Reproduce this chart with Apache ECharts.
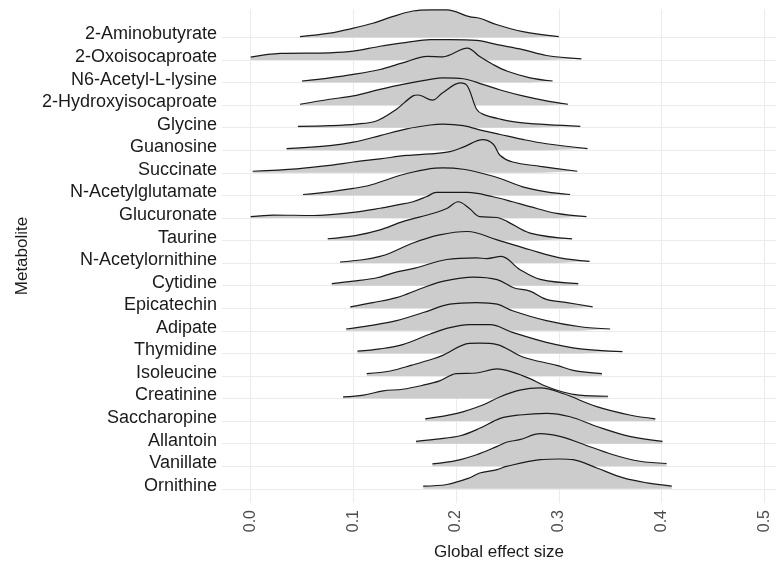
<!DOCTYPE html>
<html>
<head>
<meta charset="utf-8">
<title>Global effect size by metabolite</title>
<script src="https://cdn.jsdelivr.net/npm/echarts@6/dist/echarts.min.js"></script>
<style>
    html, body { margin: 0; padding: 0; background: #ffffff; }
    #ridges { width: 776px; height: 566px; }
</style>
</head>
<body>
<div id="ridges"></div>
<script>
    // metabolites, top row first
    var metabolites = ['2-Aminobutyrate', '2-Oxoisocaproate', 'N6-Acetyl-L-lysine', '2-Hydroxyisocaproate',
        'Glycine', 'Guanosine', 'Succinate', 'N-Acetylglutamate', 'Glucuronate', 'Taurine',
        'N-Acetylornithine', 'Cytidine', 'Epicatechin', 'Adipate', 'Thymidine', 'Isoleucine',
        'Creatinine', 'Saccharopine', 'Allantoin', 'Vanillate', 'Ornithine'];

    // effect size positions read along each ridge
    var ridgeX = [
        [0.048, 0.077, 0.100, 0.119, 0.138, 0.158, 0.175, 0.191, 0.213, 0.223, 0.240, 0.265, 0.300],
        [0.000, 0.029, 0.077, 0.100, 0.126, 0.152, 0.175, 0.194, 0.220, 0.240, 0.265, 0.288, 0.322],
        [0.050, 0.077, 0.100, 0.126, 0.148, 0.172, 0.187, 0.211, 0.223, 0.236, 0.250, 0.272, 0.294],
        [0.048, 0.077, 0.100, 0.126, 0.148, 0.175, 0.187, 0.207, 0.226, 0.243, 0.265, 0.288, 0.309],
        [0.046, 0.077, 0.103, 0.123, 0.142, 0.158, 0.163, 0.177, 0.187, 0.204, 0.211, 0.220, 0.226, 0.243, 0.265, 0.321],
        [0.035, 0.077, 0.100, 0.126, 0.152, 0.175, 0.187, 0.207, 0.226, 0.243, 0.265, 0.288, 0.328],
        [0.002, 0.045, 0.077, 0.100, 0.126, 0.152, 0.175, 0.194, 0.207, 0.226, 0.236, 0.243, 0.255, 0.282, 0.318],
        [0.051, 0.077, 0.100, 0.116, 0.136, 0.152, 0.175, 0.187, 0.207, 0.226, 0.243, 0.265, 0.288, 0.311],
        [0.000, 0.022, 0.061, 0.100, 0.126, 0.142, 0.158, 0.171, 0.181, 0.211, 0.236, 0.255, 0.272, 0.298, 0.327],
        [0.075, 0.102, 0.126, 0.148, 0.178, 0.191, 0.202, 0.213, 0.223, 0.240, 0.250, 0.272, 0.313],
        [0.087, 0.109, 0.126, 0.136, 0.158, 0.184, 0.211, 0.240, 0.272, 0.301, 0.330],
        [0.079, 0.100, 0.123, 0.139, 0.160, 0.191, 0.220, 0.230, 0.244, 0.262, 0.282, 0.319],
        [0.097, 0.119, 0.142, 0.168, 0.188, 0.217, 0.240, 0.256, 0.272, 0.288, 0.308, 0.333],
        [0.093, 0.116, 0.142, 0.168, 0.194, 0.220, 0.240, 0.255, 0.288, 0.321, 0.350],
        [0.104, 0.126, 0.148, 0.175, 0.194, 0.213, 0.233, 0.255, 0.288, 0.321, 0.362],
        [0.113, 0.136, 0.157, 0.178, 0.187, 0.213, 0.223, 0.240, 0.265, 0.298, 0.314, 0.342],
        [0.090, 0.110, 0.129, 0.148, 0.168, 0.184, 0.200, 0.220, 0.240, 0.255, 0.272, 0.285, 0.304, 0.320, 0.348],
        [0.170, 0.201, 0.226, 0.243, 0.262, 0.282, 0.304, 0.337, 0.369, 0.394],
        [0.161, 0.181, 0.204, 0.223, 0.243, 0.262, 0.288, 0.311, 0.337, 0.369, 0.401],
        [0.177, 0.201, 0.220, 0.240, 0.249, 0.262, 0.282, 0.301, 0.321, 0.353, 0.379, 0.405],
        [0.168, 0.191, 0.213, 0.223, 0.240, 0.249, 0.282, 0.301, 0.314, 0.337, 0.363, 0.386, 0.410]
    ];

    // ridge heights at those positions, in row units
    var ridgeH = [
        [0.04, 0.19, 0.41, 0.63, 0.92, 1.17, 1.22, 1.22, 0.92, 0.85, 0.56, 0.26, 0.04],
        [0.13, 0.29, 0.32, 0.39, 0.61, 0.78, 0.90, 0.90, 0.87, 0.68, 0.46, 0.20, 0.05],
        [0.07, 0.21, 0.36, 0.58, 0.87, 1.16, 1.14, 1.53, 1.15, 0.80, 0.50, 0.21, 0.07],
        [0.04, 0.26, 0.41, 0.70, 0.92, 1.14, 1.21, 1.17, 0.92, 0.67, 0.41, 0.19, 0.04],
        [0.06, 0.09, 0.16, 0.31, 0.82, 1.41, 1.45, 1.22, 1.55, 1.99, 1.85, 0.82, 0.60, 0.38, 0.21, 0.06],
        [0.07, 0.21, 0.36, 0.65, 0.95, 1.12, 1.16, 1.09, 0.87, 0.70, 0.48, 0.29, 0.07],
        [0.07, 0.18, 0.33, 0.48, 0.62, 0.77, 0.84, 0.94, 1.14, 1.47, 1.28, 0.77, 0.48, 0.29, 0.07],
        [0.04, 0.16, 0.31, 0.45, 0.75, 0.97, 1.19, 1.22, 1.16, 0.97, 0.75, 0.38, 0.16, 0.04],
        [0.06, 0.13, 0.11, 0.25, 0.43, 0.57, 0.72, 0.94, 1.13, 1.13, 0.94, 0.72, 0.50, 0.20, 0.06],
        [0.08, 0.22, 0.47, 0.84, 1.21, 1.42, 1.72, 1.42, 1.06, 1.02, 0.84, 0.33, 0.07],
        [0.05, 0.15, 0.30, 0.45, 0.89, 1.25, 1.40, 1.03, 0.59, 0.23, 0.08],
        [0.09, 0.20, 0.35, 0.57, 0.78, 1.16, 1.23, 1.20, 1.30, 0.72, 0.28, 0.09],
        [0.06, 0.25, 0.47, 0.91, 1.20, 1.38, 1.27, 0.91, 0.76, 0.39, 0.25, 0.06],
        [0.08, 0.23, 0.45, 0.81, 1.18, 1.25, 1.18, 0.89, 0.45, 0.18, 0.08],
        [0.10, 0.20, 0.39, 0.86, 1.14, 1.27, 1.27, 0.93, 0.49, 0.20, 0.08],
        [0.10, 0.22, 0.48, 0.76, 0.91, 1.44, 1.45, 1.39, 0.84, 0.47, 0.25, 0.10],
        [0.07, 0.15, 0.34, 0.41, 0.59, 0.78, 1.10, 1.13, 1.31, 1.17, 0.88, 0.59, 0.29, 0.15, 0.10],
        [0.10, 0.34, 0.71, 1.08, 1.37, 1.47, 1.22, 0.64, 0.27, 0.10],
        [0.10, 0.20, 0.35, 0.68, 1.12, 1.27, 1.34, 1.19, 0.76, 0.32, 0.10],
        [0.10, 0.26, 0.51, 0.88, 1.06, 1.18, 1.44, 1.32, 1.02, 0.51, 0.22, 0.12],
        [0.12, 0.19, 0.48, 0.70, 0.85, 0.99, 1.29, 1.32, 1.29, 0.92, 0.48, 0.26, 0.12]
    ];

    var xTicks = [0, 0.1, 0.2, 0.3, 0.4, 0.5];

    var fontName = 'Liberation Sans, Arial, sans-serif';
    var myChart = echarts.init(document.getElementById('ridges'));

    var rowIndex = metabolites.map(function (m, i) { return i; });

    // grid lines (drawn under the ridges)
    var gridLines = xTicks.map(function (v) { return { xAxis: v }; })
        .concat(rowIndex.map(function (i) { return { yAxis: i }; }));

    var series = [{
        type: 'line',
        z: 1,
        silent: true,
        symbol: 'none',
        lineStyle: { width: 0, opacity: 0 },
        data: [[0.25, 10]],
        markLine: {
            silent: true,
            z: 1,
            symbol: 'none',
            label: { show: false },
            lineStyle: { color: '#ebebeb', width: 1, type: 'solid' },
            emphasis: { disabled: true },
            data: gridLines
        }
    }];

    metabolites.forEach(function (name, i) {
        series.push({
            name: name,
            type: 'line',
            z: 2 + i,
            smooth: 0.35,
            symbol: 'none',
            silent: true,
            lineStyle: { color: '#1a1a1a', width: 1.2 },
            areaStyle: { color: '#cccccc', opacity: 1, origin: i },
            data: ridgeX[i].map(function (x, k) { return [x, i - ridgeH[i][k]]; })
        });
    });

    var option = {
        animation: false,
        backgroundColor: '#ffffff',
        grid: { left: 222, right: 0, top: 9, bottom: 59, containLabel: false },
        xAxis: {
            type: 'value',
            min: -0.0279,
            max: 0.5115,
            axisLine: { show: false },
            axisTick: { show: false },
            splitLine: { show: false },
            axisLabel: {
                customValues: xTicks,
                rotate: 90,
                margin: 7,
                fontSize: 16,
                fontFamily: fontName,
                color: '#4d4d4d',
                formatter: function (v) { return v.toFixed(1); }
            },
            name: 'Global effect size',
            nameLocation: 'middle',
            nameGap: 41,
            nameTextStyle: { fontSize: 17, fontFamily: fontName, color: '#1a1a1a' }
        },
        yAxis: {
            type: 'value',
            inverse: true,
            min: -1.26,
            max: 20.63,
            axisLine: { show: false },
            axisTick: { show: false },
            splitLine: { show: false },
            axisLabel: {
                customValues: rowIndex,
                showMinLabel: true,
                showMaxLabel: true,
                margin: 5,
                fontSize: 18,
                fontFamily: fontName,
                color: '#1a1a1a',
                verticalAlign: 'bottom',
                lineHeight: 6,
                formatter: function (v) { return metabolites[Math.round(v)]; }
            },
            name: 'Metabolite',
            nameLocation: 'middle',
            nameGap: 190,
            nameRotate: 90,
            nameTextStyle: { fontSize: 17, fontFamily: fontName, color: '#1a1a1a' }
        },
        series: series
    };

    if (option && typeof option === 'object') {
        myChart.setOption(option, true);
    }
</script>
</body>
</html>
